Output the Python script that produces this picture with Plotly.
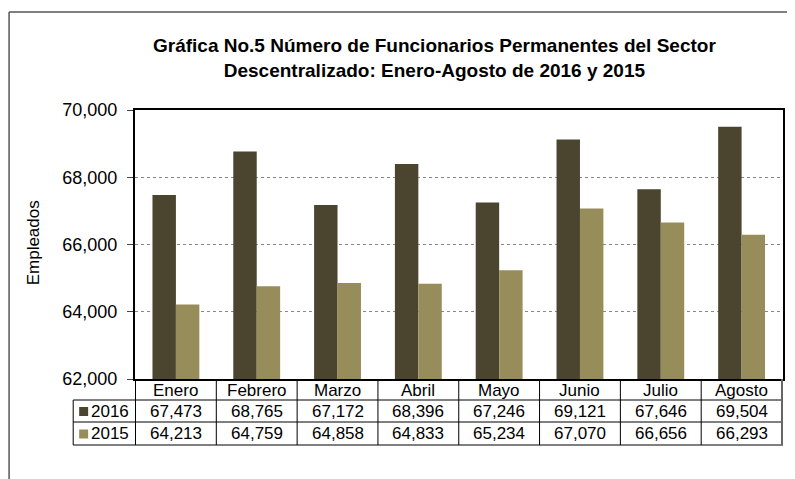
import plotly.graph_objects as go

MONTHS = ["Enero", "Febrero", "Marzo", "Abril", "Mayo", "Junio", "Julio", "Agosto"]
VALS_2016 = [67473, 68765, 67172, 68396, 67246, 69121, 67646, 69504]
VALS_2015 = [64213, 64759, 64858, 64833, 65234, 67070, 66656, 66293]
SERIES = [("2016", VALS_2016), ("2015", VALS_2015)]
Y_TICKS = [62000, 64000, 66000, 68000, 70000]

COLOR_2016 = "#4b4530"
COLOR_2015 = "#978d5a"
COLORS = {"2016": COLOR_2016, "2015": COLOR_2015}
FONT = "Liberation Sans, Arial, sans-serif"

# page body adds an 8px margin, so work in window pixels and shift back
OFF = 8
W, H = 795 - OFF, 479 - OFF
# plot area in window pixels
L, R, T, B = 135, 785, 110, 379


def px_x(x):
    return (x - L) / (R - L)


def px_y(y):
    return (B - y) / (B - T)


fig = go.Figure()
for name, vals in SERIES:
    fig.add_trace(go.Bar(
        name=name,
        x=MONTHS,
        y=vals,
        marker=dict(color=COLORS[name], line=dict(width=0)),
        hovertemplate="%{x}<br>" + name + ": %{y:,}<extra></extra>",
    ))

shapes = []
line = dict(color="black", width=1)
# table horizontal lines
for ypx in [400, 422, 445]:
    shapes.append(dict(type="line", xref="paper", yref="paper",
                       x0=px_x(73), x1=1, y0=px_y(ypx), y1=px_y(ypx), line=line))
# table vertical lines at category boundaries
for i in range(len(MONTHS) + 1):
    last = i == len(MONTHS)
    shapes.append(dict(type="line", xref="x", yref="paper",
                       x0=i - 0.5, x1=i - 0.5, y0=0, y1=px_y(445),
                       line=dict(color="#666" if last else "black", width=2 if last else 1)))
shapes.append(dict(type="line", xref="paper", yref="paper",
                   x0=px_x(73), x1=px_x(73), y0=px_y(400), y1=px_y(445), line=line))
# outer frame (top + left)
shapes.append(dict(type="line", xref="paper", yref="paper",
                   x0=px_x(8.7), x1=px_x(800), y0=px_y(12), y1=px_y(12),
                   line=dict(color="#555", width=1.5)))
shapes.append(dict(type="line", xref="paper", yref="paper",
                   x0=px_x(8.7), x1=px_x(8.7), y0=px_y(12), y1=px_y(485),
                   line=dict(color="#555", width=1.5)))

annotations = []
cell = dict(showarrow=False, yanchor="middle", xanchor="center", yref="paper")
for i, m in enumerate(MONTHS):
    annotations.append(dict(cell, x=i, xref="x", y=px_y(390), text=m,
                            font=dict(size=17, color="black")))
row_y = {"2016": 411.5, "2015": 434}
for name, vals in SERIES:
    for i, v in enumerate(vals):
        annotations.append(dict(cell, x=i, xref="x", y=px_y(row_y[name]),
                                text=f"{v:,}", font=dict(size=17, color="black")))
    # legend key square + label
    yc = row_y[name]
    shapes.append(dict(type="rect", xref="paper", yref="paper",
                       x0=px_x(79), x1=px_x(88), y0=px_y(yc + 4.5), y1=px_y(yc - 4.5),
                       fillcolor=COLORS[name], line=dict(width=0)))
    annotations.append(dict(cell, x=px_x(89), xref="paper", y=px_y(yc),
                            xanchor="left", text=name,
                            font=dict(size=17, color="black")))

annotations.append(dict(
    cell, x=px_x(435), xref="paper", y=px_y(58),
    text="<b>Gráfica No.5 Número de Funcionarios Permanentes del Sector<br>"
         "Descentralizado: Enero-Agosto de 2016 y 2015</b>",
    font=dict(size=19, color="black")))
annotations.append(dict(
    cell, x=px_x(33), xref="paper", y=px_y(243), text="Empleados",
    textangle=-90, font=dict(size=17, color="black")))

fig.update_layout(
    width=W, height=H,
    margin=dict(l=L - OFF, r=795 - R, t=T - OFF, b=479 - B, pad=0),
    barmode="group",
    bargap=0.42,
    bargroupgap=0,
    showlegend=False,
    plot_bgcolor="white",
    paper_bgcolor="white",
    font=dict(family=FONT, color="black"),
    shapes=shapes,
    annotations=annotations,
    xaxis=dict(showticklabels=False, showline=True, linecolor="black", linewidth=2,
               mirror=True, ticks=""),
    yaxis=dict(range=[62000, 70000], tickvals=Y_TICKS, tickformat=",d",
               showline=True, linecolor="black", linewidth=2, mirror=True,
               ticks="outside", ticklen=6, tickcolor="#444",
               showgrid=True, gridcolor="#888", griddash="dot", gridwidth=1,
               tickfont=dict(size=18), zeroline=False, ticklabelstandoff=6),
)

fig.write_html("out.html")
